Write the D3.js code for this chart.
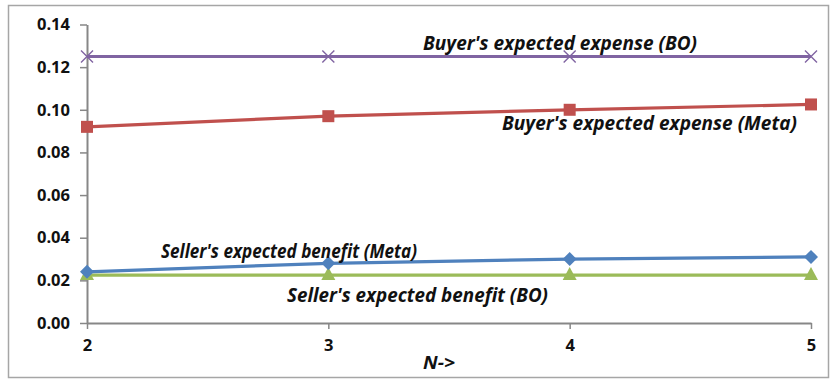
<!DOCTYPE html>
<html>
<head>
<meta charset="utf-8">
<script src="https://cdn.jsdelivr.net/npm/d3@7"></script>
<style>
  html, body { margin: 0; padding: 0; background: #fff; }
  svg { display: block; }
  text { font-family: "Open Sans", sans-serif; }
</style>
</head>
<body>
<svg id="chart" width="835" height="379"></svg>
<script>
// Number of participants on the x axis
const nValues = [2, 3, 4, 5];
const yTicks = [0, 0.02, 0.04, 0.06, 0.08, 0.10, 0.12, 0.14];

// Series values
const buyerExpenseBO   = [0.125, 0.125, 0.125, 0.125];
const buyerExpenseMeta = [0.092, 0.097, 0.100, 0.1025];
const sellerBenefitMeta = [0.024, 0.028, 0.030, 0.031];
const sellerBenefitBO   = [0.0225, 0.0225, 0.0225, 0.0225];

const seriesNames = [
  "Buyer's expected expense (BO)",
  "Buyer's expected expense (Meta)",
  "Seller's expected benefit (Meta)",
  "Seller's expected benefit (BO)"
];

const svg = d3.select("#chart");
const FONT = "'Open Sans', sans-serif";

// Outer frame
svg.append("rect")
  .attr("x", 8.5).attr("y", 5.5)
  .attr("width", 820).attr("height", 372)
  .attr("fill", "none").attr("stroke", "#a6a6a6").attr("stroke-width", 1.5);

const x = d3.scaleLinear().domain([2, 5]).range([87, 811]);
const y = d3.scaleLinear().domain([0, 0.14]).range([323, 24.5]);

// Y axis
const yAxis = d3.axisLeft(y)
  .tickValues(yTicks)
  .tickFormat(d3.format(".2f"))
  .tickSize(7)
  .tickSizeOuter(0)
  .tickPadding(10);
const gy = svg.append("g").attr("transform", `translate(${x(2)},0)`).call(yAxis);
gy.select(".domain").attr("stroke", "#878787").attr("stroke-width", 2);
gy.selectAll(".tick line").attr("stroke", "#878787").attr("stroke-width", 1.5);
gy.selectAll(".tick text")
  .attr("fill", "#111").attr("font-size", 16.5).attr("font-weight", "bold")
  .attr("font-family", FONT);

// X axis
const xAxis = d3.axisBottom(x)
  .tickValues(nValues)
  .tickFormat(d3.format("d"))
  .tickSize(6)
  .tickSizeOuter(0)
  .tickPadding(10);
const gx = svg.append("g").attr("transform", `translate(0,${y(0)})`).call(xAxis);
gx.select(".domain").attr("stroke", "#878787").attr("stroke-width", 2);
gx.selectAll(".tick line").attr("stroke", "#878787").attr("stroke-width", 1.5);
gx.selectAll(".tick text")
  .attr("fill", "#111").attr("font-size", 16.5).attr("font-weight", "bold")
  .attr("font-family", FONT);

// X axis title
svg.append("text")
  .attr("x", 439).attr("y", 369)
  .attr("text-anchor", "middle")
  .attr("font-size", 17).attr("font-weight", "bold").attr("font-style", "italic")
  .attr("font-family", FONT)
  .attr("fill", "#111")
  .attr("textLength", 32)
  .attr("lengthAdjust", "spacingAndGlyphs")
  .text("N->");

const line = d3.line().x((d, i) => x(nValues[i])).y(d => y(d));

function drawSeries(values, color, marker) {
  svg.append("path")
    .datum(values)
    .attr("d", line)
    .attr("fill", "none")
    .attr("stroke", color)
    .attr("stroke-width", 3.2);
  const g = svg.append("g");
  values.forEach((v, i) => {
    const cx = x(nValues[i]), cy = y(v);
    if (marker === "cross") {
      const s = 6;
      g.append("path")
        .attr("d", `M${cx - s},${cy - s}L${cx + s},${cy + s}M${cx - s},${cy + s}L${cx + s},${cy - s}`)
        .attr("stroke", color).attr("stroke-width", 1.4).attr("fill", "none");
    } else if (marker === "square") {
      g.append("rect")
        .attr("x", cx - 6).attr("y", cy - 6)
        .attr("width", 12).attr("height", 12)
        .attr("fill", color);
    } else if (marker === "diamond") {
      g.append("path")
        .attr("d", `M${cx},${cy - 7}L${cx + 7},${cy}L${cx},${cy + 7}L${cx - 7},${cy}Z`)
        .attr("fill", color);
    } else if (marker === "triangle") {
      g.append("path")
        .attr("d", `M${cx},${cy - 8}L${cx + 7},${cy + 5}L${cx - 7},${cy + 5}Z`)
        .attr("fill", color);
    }
  });
}

drawSeries(buyerExpenseBO, "#8064a2", "cross");
drawSeries(buyerExpenseMeta, "#c0504d", "square");
drawSeries(sellerBenefitBO, "#9bbb59", "triangle");
drawSeries(sellerBenefitMeta, "#4f81bd", "diamond");

// Series labels
const labelPos = [
  { x: 423, y: 50, w: 274 },
  { x: 502, y: 130, w: 295 },
  { x: 161, y: 258, w: 256 },
  { x: 287, y: 302, w: 261 }
];
seriesNames.forEach((name, i) => {
  svg.append("text")
    .attr("x", labelPos[i].x).attr("y", labelPos[i].y)
    .attr("font-size", 19).attr("font-weight", "bold").attr("font-style", "italic")
    .attr("font-family", FONT)
    .attr("fill", "#111")
    .attr("textLength", labelPos[i].w)
    .attr("lengthAdjust", "spacingAndGlyphs")
    .text(name);
});
</script>
</body>
</html>
